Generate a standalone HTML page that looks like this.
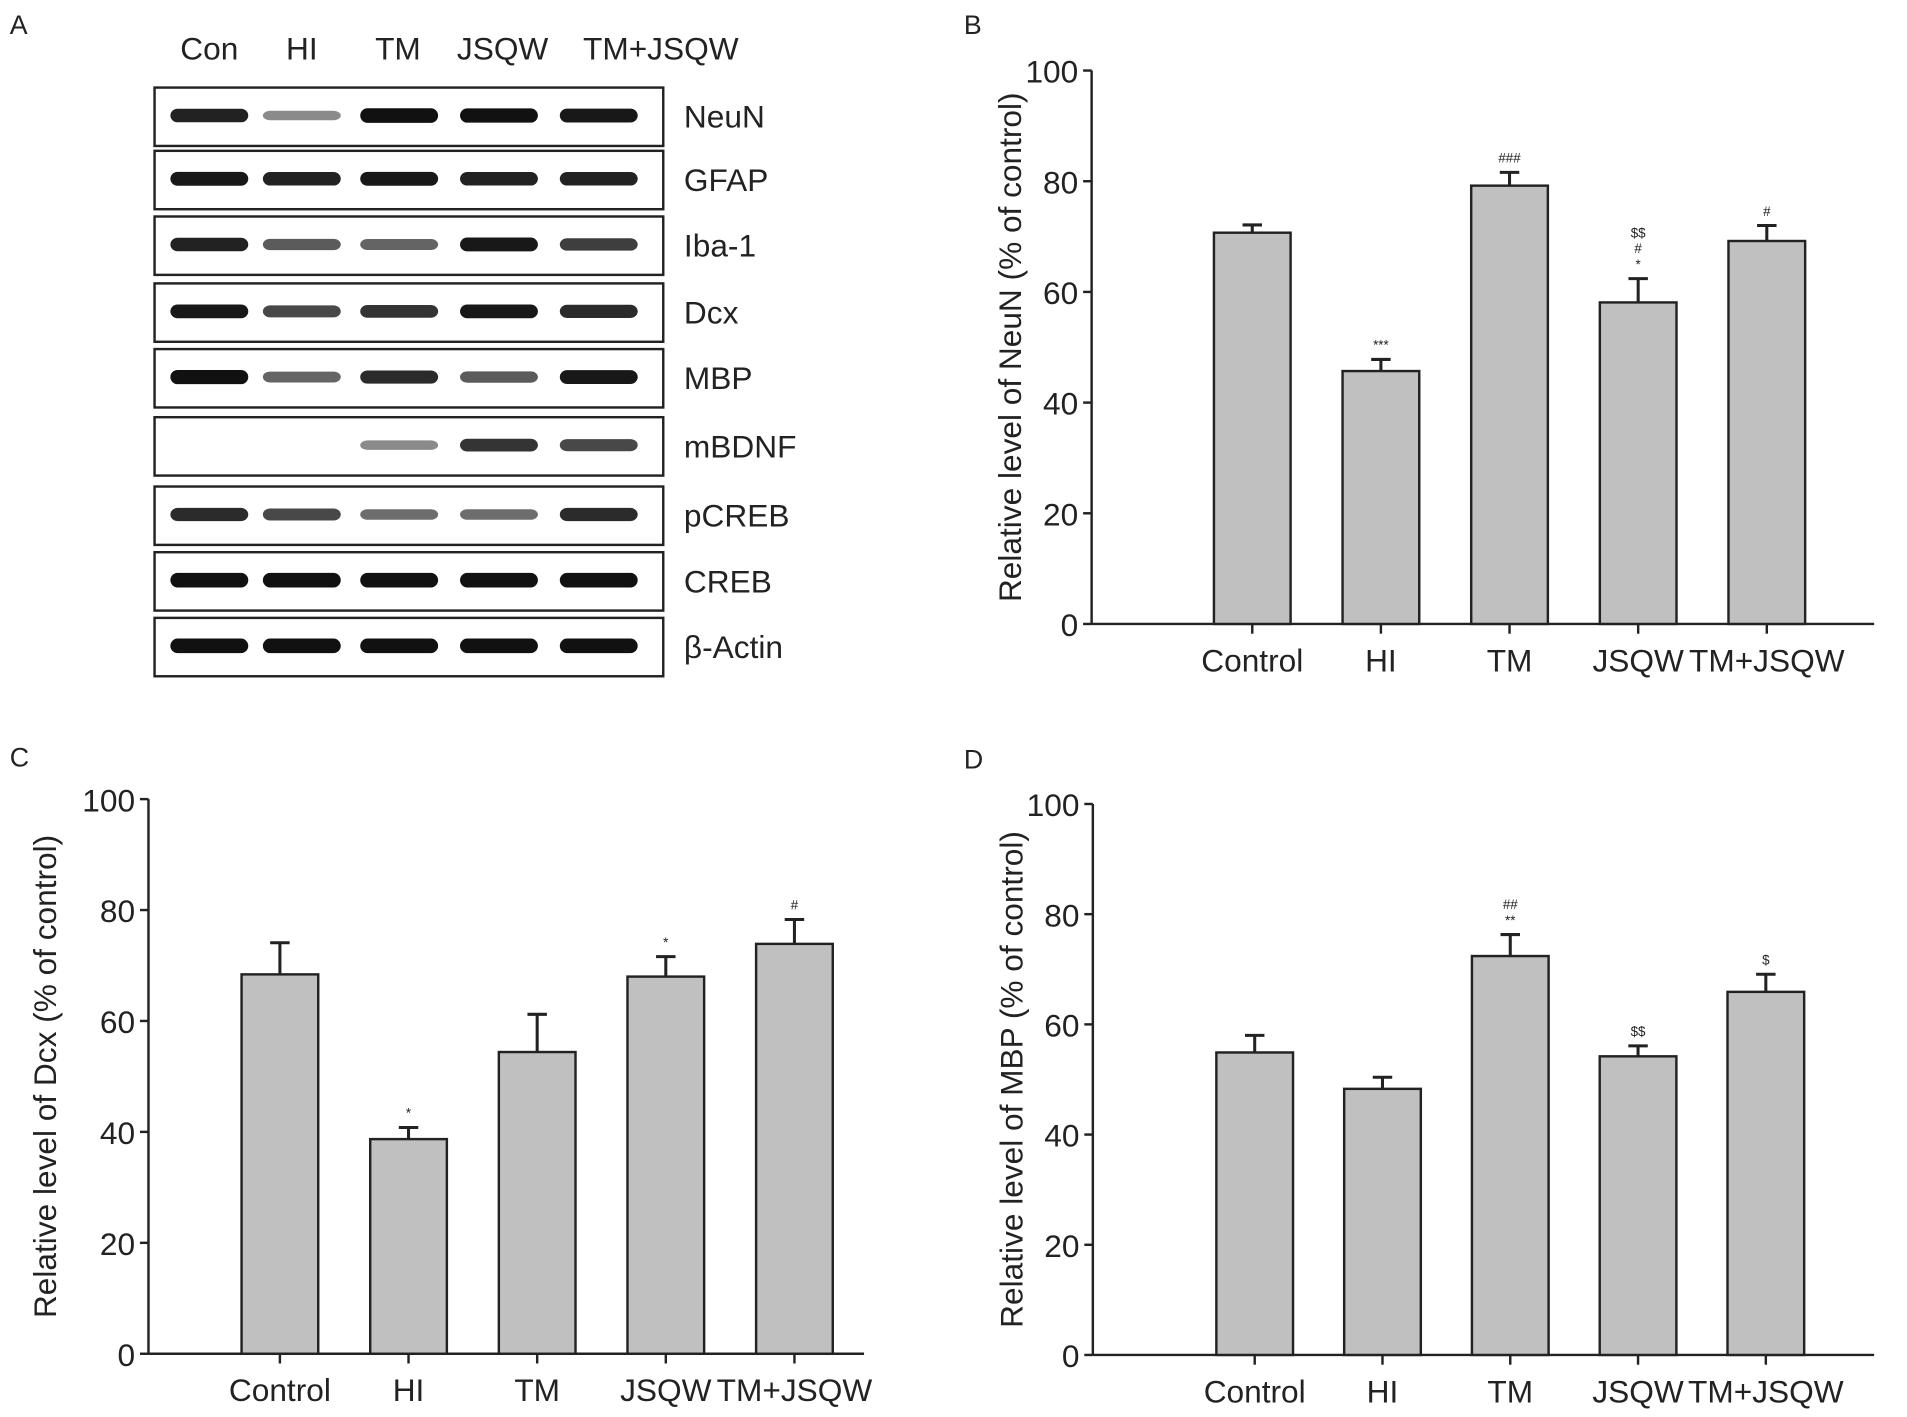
<!DOCTYPE html>
<html><head><meta charset="utf-8"><style>
html,body{margin:0;padding:0;background:#fff}
svg{display:block}
text{font-family:"Liberation Sans",Arial,sans-serif;fill:#222}
</style></head><body>
<svg id="fig" width="1907" height="1417" viewBox="0 0 1567 1165" preserveAspectRatio="none" xmlns="http://www.w3.org/2000/svg">
<rect width="1567" height="1165" fill="#fff"/>
<text x="8" y="28" font-size="22">A</text>
<text x="792" y="28" font-size="22">B</text>
<text x="8" y="630" font-size="22">C</text>
<text x="792" y="632" font-size="22">D</text>
<g id="blot"></g>
<g id="chartB"></g>
<g id="chartC"></g>
<g id="chartD"></g>
</svg>
<script>
const categories = ["Control","HI","TM","JSQW","TM+JSQW"];
const neunValues = [70.7,45.7,79.2,58.1,69.2];
const neunErrors = [1.4,2.1,2.4,4.3,2.8];
const neunMarks = [[],["***"],["###"],["*","#","$$"],["#"]];
const dcxValues = [68.4,38.7,54.4,68.0,73.9];
const dcxErrors = [5.7,2.1,6.8,3.6,4.4];
const dcxMarks = [[],["*"],[],["*"],["#"]];
const mbpValues = [54.9,48.3,72.4,54.2,65.9];
const mbpErrors = [3.1,2.1,3.9,1.9,3.2];
const mbpMarks = [[],[],["**","##"],["$$"],["$"]];
const yTicks = [0,20,40,60,80,100];
const laneLabels = ["Con","HI","TM","JSQW","TM+JSQW"];
const proteins = ["NeuN","GFAP","Iba-1","Dcx","MBP","mBDNF","pCREB","CREB","β-Actin"];
const bandIntensity = [
 [0.85,0.3,1,0.95,0.9],
 [0.9,0.85,0.9,0.85,0.85],
 [0.85,0.55,0.5,0.9,0.7],
 [0.9,0.65,0.75,0.9,0.8],
 [0.95,0.5,0.8,0.55,0.9],
 [0,0,0.3,0.75,0.65],
 [0.8,0.65,0.45,0.45,0.8],
 [1,1,1,1,1],
 [1,1,1,1,1]
];
const NS="http://www.w3.org/2000/svg";
function mk(tag,attrs,parent){const e=document.createElementNS(NS,tag);for(const k in attrs)e.setAttribute(k,attrs[k]);parent.appendChild(e);return e;}

const blot=document.getElementById('blot');
const laneX=[172,248,328,410,492];
const headX=[172,248,327,413,543];
const rowTop=[72,124,178,233,287,343,400,454,508];
const rowH=48;
laneLabels.forEach((l,i)=>{const t=mk('text',{x:headX[i],y:49,'font-size':26,'text-anchor':'middle'},blot);t.textContent=l;

});
proteins.forEach((p,r)=>{
 const g=mk('g',{},blot);
 
 
 mk('rect',{x:127,y:rowTop[r],width:418,height:rowH,fill:'#fff',stroke:'#222','stroke-width':2},g);
 bandIntensity[r].forEach((v,i)=>{ if(v<=0) return;
  const b=mk('rect',{x:laneX[i]-32,y:rowTop[r]+rowH/2-4-v*3,width:64,height:6+v*6,rx:6,fill:'#111',opacity:Math.min(1,0.25+v*0.8)},g);
  
  
 });
 const t=mk('text',{x:562,y:rowTop[r]+rowH/2+9,'font-size':26},g);t.textContent=p;
 
 
});

function drawChart(id,vals,errs,marks,opt,title){
 const g=document.getElementById(id);
 const y=v=>opt.y0-(opt.y0-opt.y100)*v/100;
 mk('line',{x1:opt.ax,y1:opt.y100,x2:opt.ax,y2:opt.y0,stroke:'#222','stroke-width':2},g);
 mk('line',{x1:opt.ax,y1:opt.y0,x2:opt.xend,y2:opt.y0,stroke:'#222','stroke-width':2},g);
 yTicks.forEach(t=>{
  mk('line',{x1:opt.ax-7,y1:y(t),x2:opt.ax,y2:y(t),stroke:'#222','stroke-width':2},g);
  const tx=mk('text',{x:opt.ax-11,y:y(t)+10,'font-size':26,'text-anchor':'end'},g);tx.textContent=t;
  
  
 });
 const yt=mk('text',{x:0,y:0,'font-size':26,'text-anchor':'middle',transform:`translate(${opt.ax-opt.tOff},${(opt.y0+opt.y100)/2}) rotate(-90)`},g);
 yt.textContent=title;
 
 
 categories.forEach((c,i)=>{
  const cx=opt.c0+opt.step*i;
  const bar=mk('rect',{x:cx-31.5,y:y(vals[i]),width:63,height:opt.y0-y(vals[i]),fill:'#c0c0c0',stroke:'#222','stroke-width':2},g);
  
  
  const top=y(vals[i]+errs[i]);
  const eb=mk('path',{d:`M${cx},${y(vals[i])}V${top}M${cx-8},${top}H${cx+8}`,stroke:'#222','stroke-width':2.5,fill:'none'},g);
  
  
  marks[i].forEach((m,k)=>{
   const mt=mk('text',{x:cx,y:top-8-k*13,'font-size':11,'text-anchor':'middle'},g);mt.textContent=m;
   
   
  });
  mk('line',{x1:cx,y1:opt.y0,x2:cx,y2:opt.y0+8,stroke:'#222','stroke-width':2},g);
  const xl=mk('text',{x:cx,y:opt.y0+39,'font-size':26,'text-anchor':'middle'},g);xl.textContent=c;
  
  
 });
}
drawChart('chartB',neunValues,neunErrors,neunMarks,{ax:897,y0:513,y100:58,xend:1540,c0:1029,step:105.7,tOff:58},'Relative level of NeuN (% of control)');
drawChart('chartC',dcxValues,dcxErrors,dcxMarks,{ax:122,y0:1113,y100:657,xend:710,c0:230,step:105.7,tOff:76},'Relative level of Dcx (% of control)');
drawChart('chartD',mbpValues,mbpErrors,mbpMarks,{ax:898,y0:1114,y100:661,xend:1540,c0:1031,step:105,tOff:58},'Relative level of MBP (% of control)');
</script>
</body></html>
